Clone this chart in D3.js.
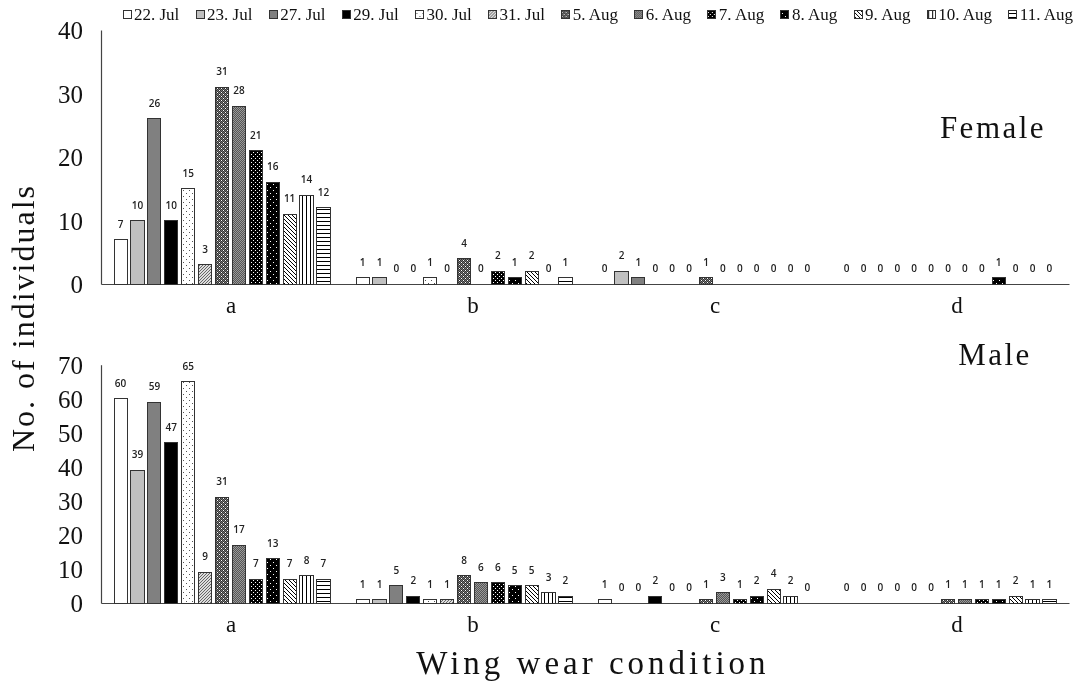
<!DOCTYPE html>
<html>
<head>
<meta charset="utf-8">
<script src="https://cdn.jsdelivr.net/npm/d3@7"></script>
<style>
  html, body { margin: 0; padding: 0; background: #fff; }
  svg { display: block; will-change: transform; }
  .serif { font-family: "Liberation Serif", "DejaVu Serif", serif; fill: #111; }
  .val { font-family: "Open Sans", "Liberation Sans", sans-serif; font-size: 10px; font-weight: 600; fill: #222; }
</style>
</head>
<body>
<svg id="chart" width="1078" height="685"></svg>
<script>
// Wing wear condition classes
const categories = ["a", "b", "c", "d"];

// Sampling dates (one bar per date inside each class)
const dates = ["22. Jul", "23. Jul", "27. Jul", "29. Jul", "30. Jul", "31. Jul",
               "5. Aug", "6. Aug", "7. Aug", "8. Aug", "9. Aug", "10. Aug", "11. Aug"];

// Female counts per class, ordered by date
const femaleA = [7, 10, 26, 10, 15, 3, 31, 28, 21, 16, 11, 14, 12];
const femaleB = [1, 1, 0, 0, 1, 0, 4, 0, 2, 1, 2, 0, 1];
const femaleC = [0, 2, 1, 0, 0, 0, 1, 0, 0, 0, 0, 0, 0];
const femaleD = [0, 0, 0, 0, 0, 0, 0, 0, 0, 1, 0, 0, 0];

// Male counts per class, ordered by date
const maleA = [60, 39, 59, 47, 65, 9, 31, 17, 7, 13, 7, 8, 7];
const maleB = [1, 1, 5, 2, 1, 1, 8, 6, 6, 5, 5, 3, 2];
const maleC = [1, 0, 0, 2, 0, 0, 1, 3, 1, 2, 4, 2, 0];
const maleD = [0, 0, 0, 0, 0, 0, 1, 1, 1, 1, 2, 1, 1];

// Y-axis ticks
const femaleTicks = [0, 10, 20, 30, 40];
const maleTicks = [0, 10, 20, 30, 40, 50, 60, 70];

const svg = d3.select("#chart");
const defs = svg.append("defs");

// ---- fill patterns, one per date ----
function pattern(id, size, bg, draw) {
  const p = defs.append("pattern").attr("id", id)
    .attr("patternUnits", "userSpaceOnUse").attr("width", size).attr("height", size);
  p.append("rect").attr("width", size).attr("height", size).attr("fill", bg);
  const g = p.append("g").attr("shape-rendering", "crispEdges");
  draw(g);
}
function dots(g, pts, color) {
  pts.forEach(([x, y]) => g.append("rect").attr("x", x).attr("y", y)
    .attr("width", 1).attr("height", 1).attr("fill", color));
}
pattern("p4", 6, "#fff", g => dots(g, [[1, 1], [4, 4]], "#555"));
pattern("p5", 3, "#ddd", g => dots(g, [[0, 0], [2, 1], [1, 2]], "#666"));
pattern("p6", 4, "#777", g => {
  dots(g, [[1, 0], [3, 0], [0, 1], [2, 1], [1, 2], [3, 2], [0, 3], [2, 3]], "#333");
  dots(g, [[0, 0], [2, 2]], "#fff");
});
pattern("p7", 2, "#999", g => dots(g, [[0, 0], [1, 1]], "#555"));
pattern("p8", 4, "#000", g => dots(g, [[0, 0], [2, 2]], "#fff"));
pattern("p9", 6, "#000", g => dots(g, [[1, 1], [4, 4]], "#fff"));
pattern("p10", 4, "#fff", g => {
  g.attr("shape-rendering", null);
  g.append("path").attr("d", "M-1,-1 L5,5 M-1,3 L1,5 M3,-1 L5,1")
    .attr("stroke", "#000").attr("stroke-width", 1);
});
pattern("p11", 4, "#fff", g => g.append("rect").attr("x", 1).attr("y", 0)
  .attr("width", 1).attr("height", 4).attr("fill", "#000"));
pattern("p12", 4, "#fff", g => g.append("rect").attr("x", 0).attr("y", 1)
  .attr("width", 4).attr("height", 1).attr("fill", "#000"));

const fills = ["#fff", "#c0c0c0", "#808080", "#000", "url(#p4)", "url(#p5)", "url(#p6)",
               "url(#p7)", "url(#p8)", "url(#p9)", "url(#p10)", "url(#p11)", "url(#p12)"];
const color = d3.scaleOrdinal().domain(dates).range(fills);

// ---- shared horizontal scales ----
const plotLeft = 101, plotRight = 1069;
const x0 = d3.scaleBand().domain(categories).range([plotLeft, plotRight]).padding(0);
const x1 = d3.scaleBand().domain(dates).range([13, x0.bandwidth() - 13]).paddingInner(0.22);

const panels = [
  { name: "Female", series: [femaleA, femaleB, femaleC, femaleD], ticks: femaleTicks,
    yMax: 40, top: 30, bottom: 284, nameX: 993, nameY: 138, catY: 313 },
  { name: "Male", series: [maleA, maleB, maleC, maleD], ticks: maleTicks,
    yMax: 70, top: 364.7, bottom: 603, nameX: 995, nameY: 365, catY: 632 }
];

panels.forEach(panel => {
  const y = d3.scaleLinear().domain([0, panel.yMax]).range([panel.bottom, panel.top]);
  const g = svg.append("g");

  // y axis: line and labels, no tick marks
  const yAxis = d3.axisLeft(y).tickValues(panel.ticks).tickSize(0).tickPadding(18);
  const ya = g.append("g").attr("transform", `translate(${plotLeft},0)`).call(yAxis);
  ya.select(".domain").attr("stroke", "#444").attr("stroke-width", 1.2);
  ya.selectAll("text").attr("class", "serif").attr("font-size", 25)
    .attr("font-family", null).attr("dy", "0.34em");

  // x baseline
  const xAxis = d3.axisBottom(x0).tickSize(0).tickFormat("");
  const xa = g.append("g").attr("transform", `translate(0,${panel.bottom})`).call(xAxis);
  xa.select(".domain").attr("stroke", "#444").attr("stroke-width", 1.2);

  // category names under each group
  g.selectAll(".cat").data(categories).join("text")
    .attr("class", "serif cat")
    .attr("x", d => x0(d) + x0.bandwidth() / 2 + 9)
    .attr("y", panel.catY)
    .attr("text-anchor", "middle").attr("font-size", 23)
    .text(d => d);

  // grouped bars
  const groups = g.selectAll(".grp").data(categories).join("g")
    .attr("class", "grp")
    .attr("transform", d => `translate(${x0(d)},0)`);

  const rows = (c, i) => dates.map((dt, j) => ({ date: dt, value: panel.series[i][j] }));

  groups.selectAll("rect").data(rows).join("rect")
    .filter(d => d.value > 0)
    .attr("x", d => x1(d.date))
    .attr("y", d => y(d.value))
    .attr("width", x1.bandwidth())
    .attr("height", d => y(0) - y(d.value))
    .attr("fill", d => color(d.date))
    .attr("stroke", "#333").attr("stroke-width", 1)
    .attr("shape-rendering", "crispEdges");

  groups.selectAll(".val").data(rows).join("text")
    .attr("class", "val")
    .attr("x", d => x1(d.date) + x1.bandwidth() / 2)
    .attr("y", d => y(d.value) - 12)
    .attr("text-anchor", "middle")
    .text(d => d.value);

  // panel title
  g.append("text").attr("class", "serif")
    .attr("x", panel.nameX).attr("y", panel.nameY)
    .attr("text-anchor", "middle").attr("font-size", 31)
    .attr("letter-spacing", 2.5)
    .text(panel.name);
});

// axis titles
svg.append("text").attr("class", "serif")
  .attr("transform", "translate(34,318) rotate(-90)")
  .attr("text-anchor", "middle").attr("font-size", 32)
  .attr("letter-spacing", 2)
  .text("No. of individuals");

svg.append("text").attr("class", "serif")
  .attr("x", 593).attr("y", 674)
  .attr("text-anchor", "middle").attr("font-size", 33)
  .attr("letter-spacing", 4)
  .text("Wing wear condition");

// ---- legend across the top ----
const legend = svg.append("g").attr("class", "legend");
const items = legend.selectAll("g").data(dates).join("g");
items.append("rect").attr("width", 8).attr("height", 8).attr("y", 10)
  .attr("fill", d => color(d)).attr("stroke", "#333").attr("stroke-width", 1)
  .attr("shape-rendering", "crispEdges");
items.append("text").attr("class", "serif").attr("x", 11).attr("y", 19.5)
  .attr("font-size", 17).text(d => d);

const widths = [];
items.each(function () { widths.push(11 + this.querySelector("text").getComputedTextLength()); });
const legStart = 123, legEnd = 1073;
const gap = (legEnd - legStart - d3.sum(widths)) / (dates.length - 1);
let cx = legStart;
items.each(function (d, i) {
  d3.select(this).attr("transform", `translate(${cx},0)`);
  cx += widths[i] + gap;
});
</script>
</body>
</html>
